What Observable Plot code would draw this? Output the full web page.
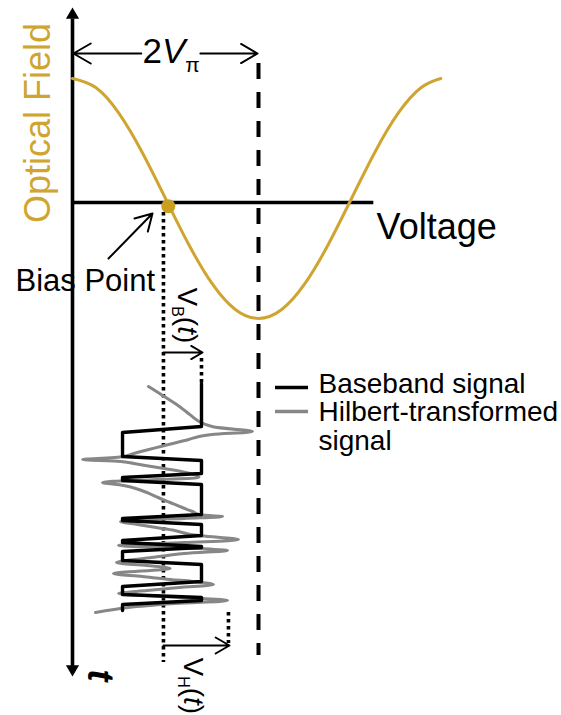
<!DOCTYPE html>
<html>
<head>
<meta charset="utf-8">
<script src="https://cdn.jsdelivr.net/npm/d3@7"></script>
<script src="https://cdn.jsdelivr.net/npm/@observablehq/plot@0.6"></script>
<style>body{margin:0;background:#fff}</style>
</head>
<body>
<div id="chart"></div>
<script>
// Modulator transfer curve: optical field vs. drive voltage (voltage in units of Vπ)
const curveV = [0, 0.25, 0.5, 0.75, 1, 1.25, 1.5, 1.75, 2, 2.25, 2.5, 2.75, 3, 3.25, 3.5, 3.75, 3.96];
const curveE = [1.0, 0.927, 0.718, 0.403, 0.032, -0.339, -0.653, -0.863, -0.935, -0.863, -0.653, -0.339, 0.032, 0.403, 0.718, 0.927, 1.0];

// Bias point on the transfer curve and the guide voltage below it
const biasV = 1.03, biasE = -0.03;
const biasGuide = 0.978;
const halfWave2 = 2;          // 2Vπ
const vbEnd = 1.398;          // V_B(t) excursion
const vhEnd = 1.688;          // V_H(t) excursion

// Baseband drive signal (NRZ), voltage vs. time (time runs downward)
const baseV = [1.387, 1.387, 0.538, 0.538, 1.387, 1.387, 0.538, 0.538, 1.387, 1.387,
               0.538, 0.538, 1.387, 1.387, 0.538, 0.538, 1.387, 1.387, 0.538, 0.538,
               1.387, 1.387, 0.538, 0.538, 1.387, 1.387, 0.538, 0.538];
const baseT = [0, 4.3, 4.9, 7.3, 7.7, 9.0, 9.4, 9.7, 10.1, 13.1,
               13.5, 13.7, 14.1, 15.2, 15.7, 15.9, 16.3, 16.4, 16.8, 17.7,
               18.1, 19.8, 20.3, 21.1, 21.4, 21.7, 22.1, 22.7];

// Hilbert-transformed drive signal
const hilbV = [0.817, 0.92, 1.02, 1.12, 1.22, 1.30, 1.36, 1.50, 1.935, 1.50, 1.36, 1.25, 1.10, 0.95, 0.80, 0.66, 0.55,
               0.108, 0.52, 0.66, 0.85, 1.05, 1.22, 1.34, 1.36, 0.90, 0.323, 0.55, 0.68, 0.80, 0.92, 1.05, 1.18, 1.29, 1.36,
               1.613, 1.20, 0.516, 0.70, 0.90, 1.10, 1.27, 1.785, 1.20, 0.495, 1.00,
               1.667, 1.20, 0.85, 0.473, 0.80, 1.05, 0.441, 0.75, 1.05, 1.30, 1.516, 1.15, 0.80, 0.495,
               0.95, 1.667, 1.10, 0.60, 0.247];
const hilbT = [0.3, 0.9, 1.5, 2.1, 2.8, 3.4, 3.8, 4.3, 4.8, 5.1, 5.3, 5.6, 5.95, 6.3, 6.65, 7.0, 7.3,
               7.6, 7.8, 8.0, 8.3, 8.6, 8.9, 9.2, 9.35, 9.6, 9.9, 10.2, 10.5, 10.9, 11.4, 11.9, 12.4, 12.8, 13.1,
               13.3, 13.5, 13.8, 14.1, 14.4, 14.7, 15.1, 15.6, 15.9, 16.2, 16.4,
               16.7, 17.0, 17.4, 17.9, 18.2, 18.5, 19.0, 19.3, 19.6, 19.8, 20.1, 20.4, 20.7, 21.0,
               21.3, 21.7, 22.0, 22.4, 22.9];

const legendLabels = ["Baseband signal", "Hilbert-transformed", "signal"];

// The time section shares the vertical scale with the field section
const yT = t => -(181 + 10 * t) / 124;

const GOLD = "#CFA52F";
const GRAY = "#878787";
const FONT = "'Liberation Sans', Arial, Helvetica, sans-serif";

const idx = n => Array.from({length: n}, (_, i) => i);

const chart = Plot.plot({
  width: 561,
  height: 715,
  margin: 0,
  x: {domain: [0, 4], range: [72, 444], axis: null},
  y: {domain: [0, 1], range: [202, 78], axis: null},
  style: {fontFamily: FONT, background: "#fff", overflow: "visible"},
  marks: [
    // axes
    Plot.ruleX([0], {y1: 1.48, y2: yT(28.3), stroke: "#000", strokeWidth: 3.6}),
    Plot.dot([0], {x: 0, y: 1.512, symbol: "triangle", r: 4.9, fill: "#000", stroke: "none"}),
    Plot.dot([0], {x: 0, y: yT(28.55), symbol: "triangle", r: 4.9, fill: "#000", stroke: "none", rotate: 180}),
    Plot.ruleY([0], {x1: 0, x2: 3.24, stroke: "#000", strokeWidth: 3.4}),
    Plot.text(["Voltage"], {x: 3.27, y: -0.2, textAnchor: "start", fontSize: 36, fill: "#000"}),
    Plot.text(["Optical Field"], {x: -0.366, y: 0.641, rotate: -90, fontSize: 36, fill: GOLD}),

    // 2Vπ span
    Plot.ruleX([halfWave2], {y1: 1.121, y2: yT(27.2), stroke: "#000", strokeWidth: 4, strokeDasharray: "16,13"}),
    Plot.arrow([0], {x1: 0.74, x2: 0.01, y1: 1.2016, y2: 1.2016, stroke: "#000", strokeWidth: 2, headLength: 15, headAngle: 60}),
    Plot.arrow([0], {x1: 1.375, x2: 1.99, y1: 1.2016, y2: 1.2016, stroke: "#000", strokeWidth: 2, headLength: 15, headAngle: 60}),
    Plot.text(["2Vπ"], {x: 0.753, y: 1.214, textAnchor: "start", fontSize: 35, fill: "#000"}),

    // transfer curve and bias point
    Plot.line(idx(curveV.length), {x: curveV, y: curveE, stroke: GOLD, strokeWidth: 3, curve: "natural"}),
    Plot.ruleX([biasGuide], {y1: -0.081, y2: yT(27.9), stroke: "#000", strokeWidth: 3.6, strokeDasharray: "3.5,3.5"}),
    Plot.dot([0], {x: biasV, y: biasE, r: 7, fill: "#C99F1E", stroke: "none"}),
    Plot.arrow([0], {x1: 0.387, y1: -0.452, x2: 0.86, y2: -0.089, stroke: "#000", strokeWidth: 2, headLength: 14, headAngle: 60}),
    Plot.text(["Bias Point"], {x: -0.613, y: -0.637, textAnchor: "start", fontSize: 31, fill: "#000"}),

    // drive amplitudes
    Plot.ruleX([1.387], {y1: yT(-2.5), y2: yT(0), stroke: "#000", strokeWidth: 3.6, strokeDasharray: "3.5,3.5"}),
    Plot.arrow([0], {x1: biasGuide, x2: vbEnd, y1: yT(-3.1), y2: yT(-3.1), stroke: "#000", strokeWidth: 2, headLength: 12, headAngle: 60}),
    Plot.text(["VB(t)"], {x: 1.226, y: yT(-9.6), rotate: 90, textAnchor: "start", fontSize: 28, fill: "#000"}),
    Plot.ruleX([1.677], {y1: yT(22.9), y2: yT(26.0), stroke: "#000", strokeWidth: 3.6, strokeDasharray: "3.5,3.5"}),
    Plot.arrow([0], {x1: biasGuide, x2: vhEnd, y1: yT(26.2), y2: yT(26.2), stroke: "#000", strokeWidth: 2, headLength: 12, headAngle: 60}),
    Plot.text(["VH(t)"], {x: 1.30, y: yT(27.4), rotate: 90, textAnchor: "start", fontSize: 28, fill: "#000"}),
    Plot.text(["t"], {x: 0.29, y: yT(29.2), rotate: 90, fontSize: 36, fontStyle: "italic", fontWeight: "bold", fill: "#000"}),

    // drive signals
    Plot.line(idx(hilbV.length), {x: hilbV, y: hilbT.map(yT), stroke: GRAY, strokeWidth: 3, strokeLinejoin: "round", curve: "catmull-rom"}),
    Plot.line(idx(baseV.length), {x: baseV, y: baseT.map(yT), stroke: "#000", strokeWidth: 3.4, strokeLinejoin: "round"}),

    // legend
    Plot.ruleY([0], {x1: 2.183, x2: 2.538, y: yT(0.4), stroke: "#000", strokeWidth: 3.4}),
    Plot.ruleY([0], {x1: 2.183, x2: 2.538, y: yT(2.8), stroke: GRAY, strokeWidth: 3.4}),
    Plot.text(legendLabels, {x: 2.645, y: [yT(0.1), yT(2.9), yT(5.8)], textAnchor: "start", fontSize: 28, fill: "#000"})
  ]
});

// Rich-text labels: italics and subscripts
function runs(svg, label, parts) {
  d3.select(svg).selectAll("text")
    .filter(function () { return this.textContent === label; })
    .each(function () {
      const t = d3.select(this);
      t.text(null);
      for (const p of parts) {
        const s = t.append("tspan").text(p.text);
        if (p.italic) s.attr("font-style", "italic");
        if (p.size) s.attr("font-size", p.size);
        if (p.dy) s.attr("dy", p.dy);
      }
    });
}
runs(chart, "2Vπ", [
  {text: "2"}, {text: "V", italic: true}, {text: "π", size: 21, dy: 9}
]);
runs(chart, "VB(t)", [
  {text: "V"}, {text: "B", size: 16, dy: 6}, {text: "(", size: 28, dy: -6}, {text: "t", italic: true}, {text: ")"}
]);
runs(chart, "VH(t)", [
  {text: "V"}, {text: "H", size: 16, dy: 6}, {text: "(", size: 28, dy: -6}, {text: "t", italic: true}, {text: ")"}
]);

document.getElementById("chart").append(chart);
</script>
</body>
</html>
